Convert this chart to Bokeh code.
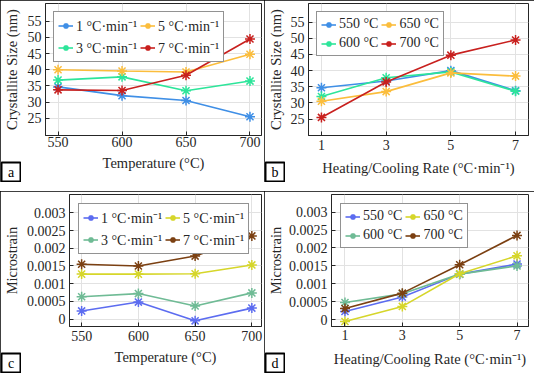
from bokeh.plotting import figure
from bokeh.layouts import column, row
from bokeh.models import (FixedTicker, Legend, LegendItem, Label, Range1d, Spacer)
from bokeh.embed import file_html
from bokeh.resources import INLINE

# ---------------- data ----------------
temps = [550, 600, 650, 700]
rates = [1, 3, 5, 7]
rate_labels = ["1 °C·min⁻¹", "3 °C·min⁻¹", "5 °C·min⁻¹", "7 °C·min⁻¹"]
temp_labels = ["550 °C", "600 °C", "650 °C", "700 °C"]
panel_letters = ["a", "b", "c", "d"]

# crystallite size (nm) for each heating/cooling rate, at temps 550..700
size_1 = [34.7, 32.0, 30.5, 25.5]
size_3 = [36.8, 37.8, 33.5, 36.5]
size_5 = [40.0, 39.6, 39.3, 44.8]
size_7 = [33.8, 33.6, 38.3, 49.5]

# microstrain for each heating/cooling rate, at temps 550..700
strain_1 = [0.00023, 0.00048, -0.00005, 0.00031]
strain_3 = [0.00063, 0.00072, 0.00037, 0.00074]
strain_5 = [0.00127, 0.00127, 0.00128, 0.00153]
strain_7 = [0.00155, 0.00150, 0.00178, 0.00235]

size_ticks = [25, 30, 35, 40, 45, 50, 55]
strain_ticks = [0, 0.0005, 0.001, 0.0015, 0.002, 0.0025, 0.003]
strain_tick_labels = ["0", "0.0005", "0.001", "0.0015", "0.002", "0.0025", "0.003"]

colors_size = ["#3f8fe6", "#2de59a", "#fbbd3c", "#c8201e"]
colors_strain = ["#5c6cf0", "#6fbb95", "#d6d62a", "#7b4012"]

size_by_rate = [size_1, size_3, size_5, size_7]
strain_by_rate = [strain_1, strain_3, strain_5, strain_7]
size_by_temp = [[s[j] for s in size_by_rate] for j in range(len(temps))]
strain_by_temp = [[s[j] for s in strain_by_rate] for j in range(len(temps))]

FONT = "Liberation Serif"
AX = "#262626"
OUTLINE = {"outline": "2px solid black", "outline-offset": "-2px"}


def style_axis(ax):
    ax.axis_line_color = AX
    ax.major_tick_line_color = AX
    ax.major_tick_in = 4
    ax.major_tick_out = 0
    ax.minor_tick_line_color = None
    ax.major_label_text_font = FONT
    ax.major_label_text_font_size = "14px"
    ax.major_label_text_color = AX
    ax.axis_label_text_font = FONT
    ax.axis_label_text_font_size = "14.5px"
    ax.axis_label_text_font_style = "normal"
    ax.axis_label_text_color = AX


def panel(size, borders, xr, yr, xticks, yticks, xlabel, ylabel, xs, series, labels,
          colors, leg_margin, stand, ytick_labels=None, shift=0):
    w, h = size
    lb, rb, tb, bb = borders
    xts, xls, yts, yls = stand
    p = figure(width=w, height=h, x_range=Range1d(*xr), y_range=Range1d(*yr),
               output_backend="svg", toolbar_location=None, title=None,
               min_border_left=lb, min_border_right=rb, min_border_top=tb,
               min_border_bottom=bb, outline_line_color=AX, outline_line_width=1,
               background_fill_color="white", border_fill_color="white",
               styles=OUTLINE, margin=(0, 0, 0, shift))
    p.xaxis.ticker = FixedTicker(ticks=xticks)
    p.yaxis.ticker = FixedTicker(ticks=yticks)
    if ytick_labels is not None:
        p.yaxis.major_label_overrides = {t: l for t, l in zip(yticks, ytick_labels)}
    p.xaxis.axis_label = xlabel
    p.yaxis.axis_label = ylabel
    for ax in p.xaxis + p.yaxis:
        style_axis(ax)
    p.xaxis.major_label_standoff = xts
    p.xaxis.axis_label_standoff = xls
    p.yaxis.major_label_standoff = yts
    p.yaxis.axis_label_standoff = yls
    p.grid.grid_line_color = "#e2e2e2"
    p.grid.grid_line_width = 1

    items = []
    for ys, lab, c in zip(series, labels, colors):
        r1 = p.line(xs, ys, line_color=c, line_width=1.6)
        r2 = p.scatter(xs, ys, marker="asterisk", size=10, line_color=c, line_width=1.5)
        items.append(LegendItem(label=lab, renderers=[r1, r2]))
    leg = Legend(items=items, ncols=2, location="top_left", margin=leg_margin,
                 border_line_color=AX, border_line_width=1, background_fill_alpha=1,
                 label_text_font=FONT, label_text_font_size="14px", label_text_color=AX,
                 glyph_width=15, glyph_height=15, label_height=15, label_standoff=3,
                 padding=4, spacing=3)
    p.add_layout(leg)
    return p


def letter_box(letter):
    f = figure(width=21, height=21, x_range=Range1d(-1, 1), y_range=Range1d(-1, 1),
               output_backend="svg", toolbar_location=None, title=None,
               x_axis_type=None, y_axis_type=None, min_border=1,
               outline_line_color="black", outline_line_width=2,
               background_fill_color="white", border_fill_color="white")
    f.add_layout(Label(x=0, y=0, text=letter, text_align="center", text_baseline="middle",
                       text_font=FONT, text_font_size="14px", text_color="black"))
    return f


pa = panel((266, 182), (41, 5, 3, 43), (540.2, 709), (19.7, 60.45), temps, size_ticks,
           "Temperature (°C)", "Crystallite Size (nm)", temps, size_by_rate, rate_labels,
           colors_size, 8, (1, 5, 4, 5))
pb = panel((270, 182), (42, 6, 2, 47), (0.6, 7.4), (19.9, 60.8), rates, size_ticks,
           "Heating/Cooling Rate (°C·min⁻¹)", "Crystallite Size (nm)", rates, size_by_temp,
           temp_labels, colors_size, 8, (4, 7, 4, 4), shift=-2)
pc = panel((266, 182), (64, 5, 3, 43), (539.3, 708.5), (-0.00021, 0.00352), temps,
           strain_ticks, "Temperature (°C)", "Microstrain", temps, strain_by_rate,
           rate_labels, colors_strain, 9, (4, 5, 4, 4), ytick_labels=strain_tick_labels)
pd_ = panel((270, 182), (64, 6, 3, 47), (0.53, 7.4), (-0.00019, 0.00349), rates,
            strain_ticks, "Heating/Cooling Rate (°C·min⁻¹)", "Microstrain", rates,
            strain_by_temp, temp_labels, colors_strain, 9, (3, 8, 4, 2),
            ytick_labels=strain_tick_labels, shift=-2)

la, lb_, lc, ld = [letter_box(t) for t in panel_letters]

layout = column(
    row(pa, pb),
    row(la, Spacer(width=243), lb_, margin=(-21, 0, 0, 0)),
    Spacer(height=9),
    row(pc, pd_),
    row(lc, Spacer(width=243), ld, margin=(-21, 0, 0, 0)),
)

open("out.html", "w").write(file_html(layout, INLINE))
